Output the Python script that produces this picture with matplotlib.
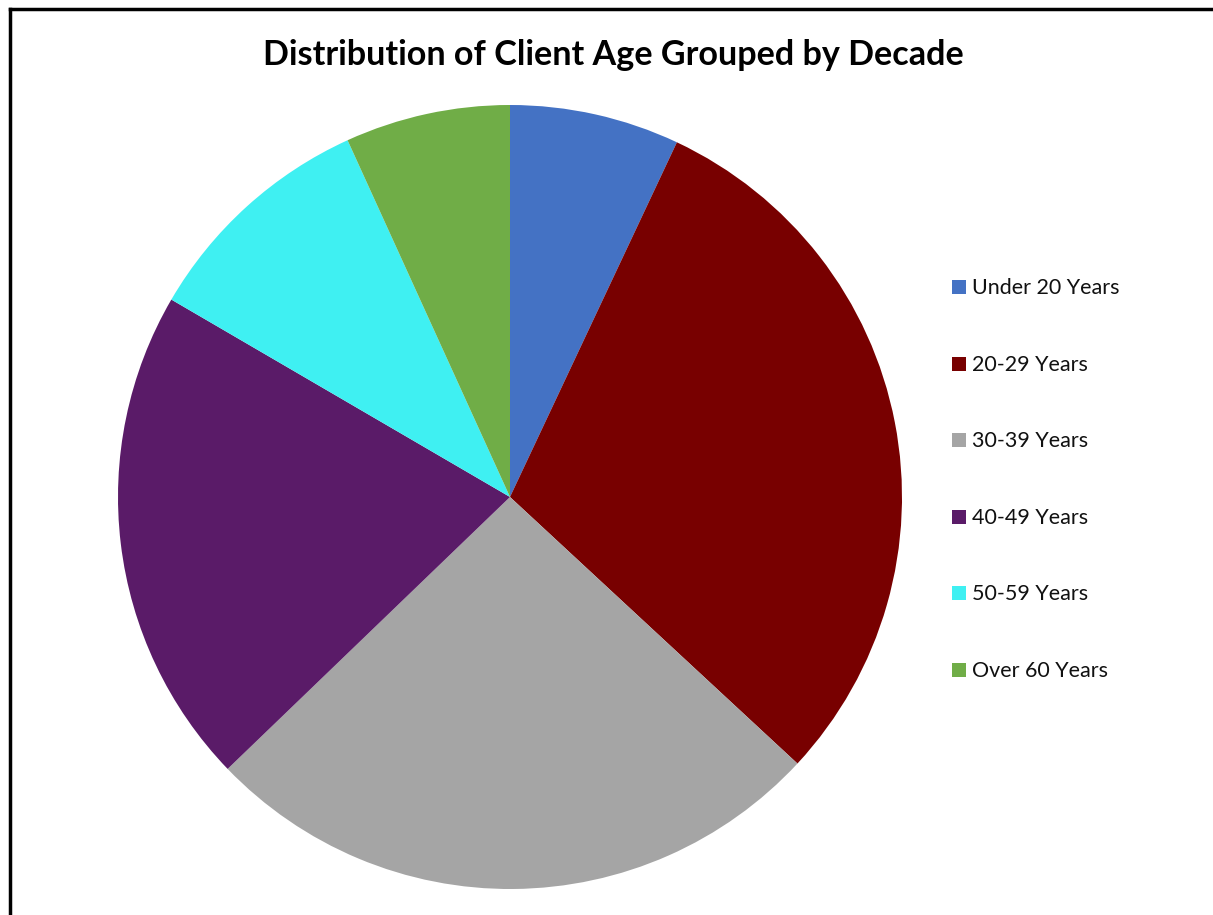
import matplotlib
matplotlib.use("Agg")
import matplotlib.pyplot as plt
from matplotlib.patches import Rectangle
from matplotlib.lines import Line2D

# Client age distribution (percent of clients per decade group)
categories = ["Under 20 Years", "20-29 Years", "30-39 Years",
              "40-49 Years", "50-59 Years", "Over 60 Years"]
shares = [7.0, 29.9, 25.9, 20.6, 9.8, 6.8]
colors = ["#4472C4", "#780000", "#A5A5A5", "#5A1B68", "#3FF0F2", "#70AD47"]

W, H = 1213, 915
fig = plt.figure(figsize=(W / 100, H / 100), dpi=100)
fig.patch.set_facecolor("white")

# outer chart frame (left and top edges visible)
fig.add_artist(Line2D([10 / W, 10 / W], [0, 1 - 9 / H], color="black", lw=2.5,
                      transform=fig.transFigure))
fig.add_artist(Line2D([10 / W, 1], [1 - 9 / H, 1 - 9 / H], color="black", lw=2.5,
                      transform=fig.transFigure))

# pie axes
cx, cy, r = 510, 497, 392
ax = fig.add_axes([(cx - r) / W, 1 - (cy + r) / H, 2 * r / W, 2 * r / H])
wedges, _ = ax.pie(shares, colors=colors, startangle=90, counterclock=False,
                   radius=1.0, wedgeprops=dict(linewidth=0))
ax.set_xlim(-1, 1)
ax.set_ylim(-1, 1)
ax.set_aspect("equal")
ax.axis("off")

fig.text(613 / W, 1 - 55 / H, "Distribution of Client Age Grouped by Decade",
         ha="center", va="center", fontsize=24.6, fontweight="bold",
         family="Lato", color="black")

# legend entries
y0, dy = 287, 76.6
for i, (lab, col) in enumerate(zip(categories, colors)):
    y = y0 + i * dy
    fig.add_artist(Rectangle((952 / W, 1 - (y + 7) / H), 14 / W, 14 / H,
                             facecolor=col, edgecolor="none",
                             transform=fig.transFigure))
    fig.text(972 / W, 1 - (y + 1) / H, lab, ha="left", va="center",
             fontsize=15.5, family="Lato", color="#111111")

fig.savefig("out.png", dpi=100)
